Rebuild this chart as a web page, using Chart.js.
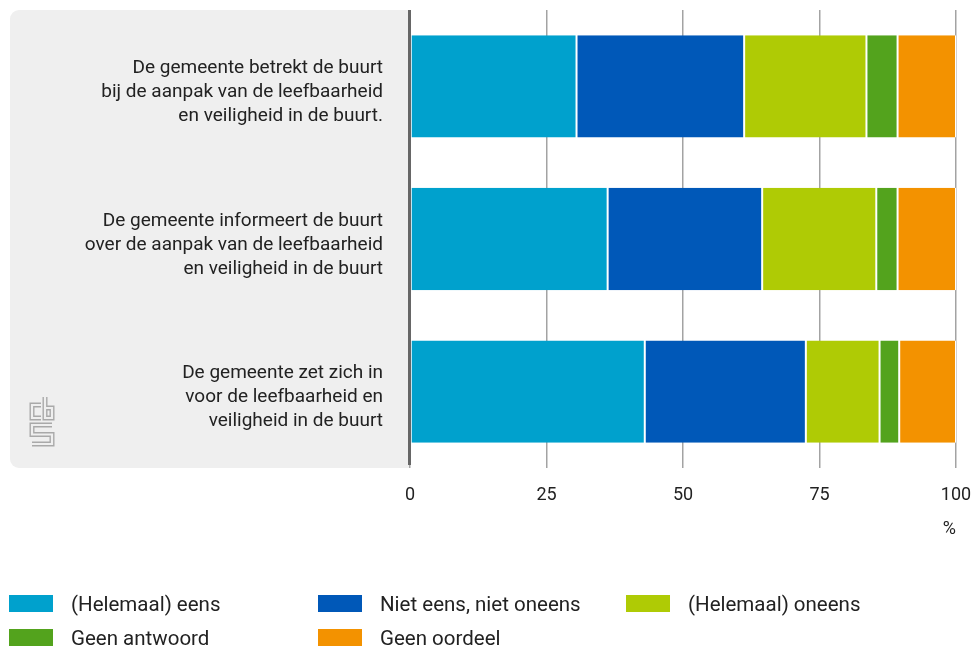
<!DOCTYPE html>
<html>
<head>
<meta charset="utf-8">
<script src="https://cdn.jsdelivr.net/npm/chart.js@4.4.1/dist/chart.umd.min.js"></script>
<style>
  html, body { margin: 0; padding: 0; background: #fff; }
  #wrap { position: relative; width: 972px; height: 648px; }
  #legend { position: absolute; left: 9px; top: 595px; width: 960px;
            display: grid; grid-template-columns: 309px 308px 300px; row-gap: 17px;
            font-family: Roboto, "Open Sans", sans-serif; font-size: 20.5px; color: #222; }
  .item { display: flex; align-items: center; height: 17px; }
  .box { width: 44px; height: 17px; margin-right: 18px; flex: none; }
</style>
</head>
<body>
<div id="wrap">
  <canvas id="canvas" width="972" height="648"></canvas>
  <div id="legend"></div>
</div>
<script>
const categories = [
    ['De gemeente betrekt de buurt', 'bij de aanpak van de leefbaarheid', 'en veiligheid in de buurt.'],
    ['De gemeente informeert de buurt', 'over de aanpak van de leefbaarheid', 'en veiligheid in de buurt'],
    ['De gemeente zet zich in', 'voor de leefbaarheid en', 'veiligheid in de buurt']
];
const seriesNames = ['(Helemaal) eens', 'Niet eens, niet oneens', '(Helemaal) oneens', 'Geen antwoord', 'Geen oordeel'];
const seriesColors = ['#00a1cd', '#0058b8', '#afcb05', '#53a31d', '#f39200'];
const helemaalEens = [30.5, 36.2, 43.0];
const nietEensNietOneens = [30.7, 28.3, 29.5];
const helemaalOneens = [22.4, 20.9, 13.5];
const geenAntwoord = [5.7, 3.9, 3.6];
const geenOordeel = [10.7, 10.7, 10.4];
const xTicks = [0, 25, 50, 75, 100];

const seriesValues = [helemaalEens, nietEensNietOneens, helemaalOneens, geenAntwoord, geenOordeel];

const FONT = 'Roboto, "Open Sans", sans-serif';

// grijs vlak achter de categorie-labels + cbs logo
const panelPlugin = {
    id: 'panel',
    beforeDraw(chart) {
        const {ctx, chartArea} = chart;
        const x0 = 10, r = 9;
        ctx.save();
        ctx.fillStyle = '#efefef';
        ctx.beginPath();
        ctx.moveTo(chartArea.left, chartArea.top);
        ctx.lineTo(x0 + r, chartArea.top);
        ctx.arcTo(x0, chartArea.top, x0, chartArea.top + r, r);
        ctx.lineTo(x0, chartArea.bottom - r);
        ctx.arcTo(x0, chartArea.bottom, x0 + r, chartArea.bottom, r);
        ctx.lineTo(chartArea.left, chartArea.bottom);
        ctx.closePath();
        ctx.fill();

        // logo
        const paths = [
            [[41, 405], [32, 405], [32, 418], [41, 418]],
            [[45, 397], [45, 418], [52, 418], [52, 408], [45, 408]],
            [[52, 425], [32, 425], [32, 434.5], [52, 434.5], [52, 444], [32, 444]]
        ];
        ctx.lineJoin = 'miter';
        ctx.lineCap = 'butt';
        [[5, '#a9a9a9'], [2.2, '#efefef']].forEach(([w, c]) => {
            ctx.lineWidth = w;
            ctx.strokeStyle = c;
            paths.forEach(p => {
                ctx.beginPath();
                p.forEach(([x, y], i) => i ? ctx.lineTo(x, y) : ctx.moveTo(x, y));
                ctx.stroke();
            });
        });
        ctx.restore();
    },
    afterDatasetsDraw(chart) {
        const {ctx, chartArea} = chart;
        ctx.save();
        ctx.fillStyle = '#666';
        ctx.fillRect(chartArea.left - 2, chartArea.top, 3, chartArea.bottom - chartArea.top - 3);
        ctx.restore();
    }
};

const config = {
    type: 'bar',
    data: {
        labels: categories,
        datasets: seriesNames.map((name, i) => ({
            label: name,
            data: seriesValues[i],
            backgroundColor: seriesColors[i],
            borderColor: '#ffffff',
            borderWidth: {left: 1, right: 1, top: 0, bottom: 0},
            borderSkipped: false,
            barPercentage: 0.67,
            categoryPercentage: 1
        }))
    },
    options: {
        indexAxis: 'y',
        responsive: false,
        animation: false,
        layout: {padding: {top: 10, left: 10, right: 16, bottom: 108}},
        plugins: {
            legend: {display: false},
            tooltip: {enabled: false}
        },
        scales: {
            x: {
                stacked: true,
                min: 0,
                max: 100,
                afterBuildTicks(scale) {
                    scale.ticks = xTicks.map(v => ({value: v}));
                },
                afterFit(scale) {
                    scale.height = 72;
                    scale.paddingLeft = 0;
                    scale.paddingRight = 0;
                },
                grid: {color: '#a3a3a3', lineWidth: 1.5, drawTicks: false},
                border: {display: false},
                ticks: {padding: 17, color: '#222', font: {family: FONT, size: 18}, maxRotation: 0},
                title: {display: true, text: '%', align: 'end', padding: 0, color: '#222', font: {family: FONT, size: 18}}
            },
            y: {
                stacked: true,
                afterFit(scale) {
                    scale.width = 400;
                    scale.paddingTop = 0;
                    scale.paddingBottom = 0;
                },
                grid: {display: false, drawTicks: false},
                border: {display: false},
                ticks: {padding: 27, labelOffset: 6, color: '#222', font: {family: FONT, size: 19, lineHeight: 1.263}}
            }
        }
    },
    plugins: [panelPlugin]
};

const context = document.getElementById('canvas').getContext('2d');
const chart = new Chart(context, config);

const legend = document.getElementById('legend');
seriesNames.forEach((name, i) => {
    const item = document.createElement('div');
    item.className = 'item';
    item.innerHTML = '<span class="box" style="background:' + seriesColors[i] + '"></span><span>' + name + '</span>';
    legend.appendChild(item);
});
</script>
</body>
</html>
